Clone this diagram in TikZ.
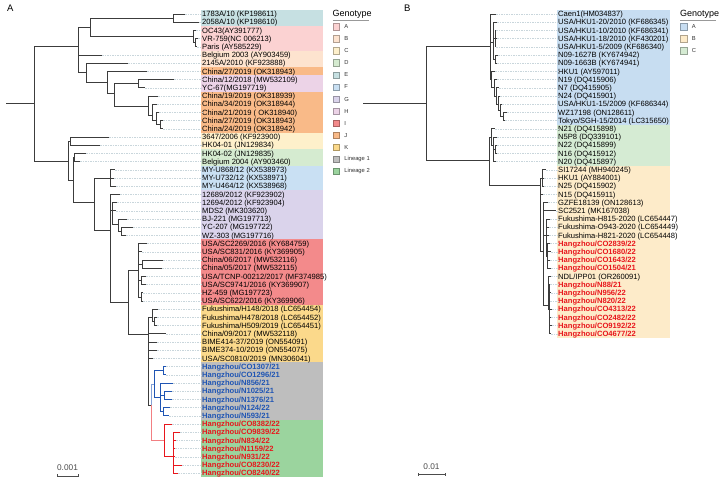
\documentclass[tikz,border=0pt]{standalone}
\usepackage{fontspec}
\setmainfont{Liberation Sans}
\usetikzlibrary{positioning}

\definecolor{treec}{HTML}{3C3C3C}
\definecolor{leadc}{HTML}{C9D6DC}
\definecolor{gA}{HTML}{FBD2D2}
\definecolor{gB}{HTML}{FDE3CF}
\definecolor{gC}{HTML}{FEF0CB}
\definecolor{gD}{HTML}{D5EBD0}
\definecolor{gE}{HTML}{C6E0E2}
\definecolor{gF}{HTML}{C9E0F3}
\definecolor{gG}{HTML}{DAD3EB}
\definecolor{gH}{HTML}{ECD3E7}
\definecolor{gI}{HTML}{F38A8B}
\definecolor{gJ}{HTML}{F9BA88}
\definecolor{gK}{HTML}{FBD98B}
\definecolor{gLone}{HTML}{BEBEBE}
\definecolor{gLtwo}{HTML}{9BD49E}
\definecolor{hA}{HTML}{C7DDF1}
\definecolor{hB}{HTML}{FDEBC9}
\definecolor{hC}{HTML}{D5EBD3}
\definecolor{linone}{HTML}{1F55B4}
\definecolor{lintwo}{HTML}{E8161C}

\newcommand{\labfont}{\fontsize{7.6}{8}\selectfont}

\begin{document}
\begin{tikzpicture}[x=1pt, y=-8.2pt,
  tree/.style={color=treec, line width=0.7pt, every edge/.style={draw, to path={|- (\tikztotarget)}}},
  lead/.style={draw=leadc, line width=0.45pt, dash pattern=on 1.5pt off 1pt},
  lab/.style={anchor=west, inner sep=0pt, text height=5.4pt, text depth=0pt, font=\labfont},
  hz1/.style={lab, text=linone, font=\labfont\bfseries},
  hz2/.style={lab, text=lintwo, font=\labfont\bfseries},
  lgbox/.style={line width=0.3pt, minimum size=6.5pt, inner sep=0pt},
  lgtxt/.style={font=\fontsize{5.8}{6}\selectfont, text=black!80, inner sep=0pt},
  lgtitle/.style={font=\fontsize{9}{10}\selectfont, anchor=west, inner sep=0pt},
  panel/.style={font=\fontsize{9.5}{10}\selectfont, anchor=west, inner sep=0pt},
  sbar/.style={line width=0.6pt, draw=black!70},
  sbtxt/.style={font=\fontsize{8.3}{9}\selectfont, text=black!70, inner sep=0pt}]

\useasboundingbox (0,-0.7073) rectangle (724,58.195);
\fill[white] (0,-0.7073) rectangle (724,58.195);

\node[panel] (pA) at (7,0.27) {A};
\node[panel] (pB) at (404,0.27) {B};

% label backgrounds, panel A
\fill[gE] (201,0.5) rectangle (323,2.5);
\fill[gA] (201,2.5) rectangle (323,5.5);
\fill[gB] (201,5.5) rectangle (323,7.5);
\fill[gJ] (201,7.5) rectangle (323,8.5);
\fill[gH] (201,8.5) rectangle (323,10.5);
\fill[gJ] (201,10.5) rectangle (323,15.5);
\fill[gC] (201,15.5) rectangle (323,17.5);
\fill[gD] (201,17.5) rectangle (323,19.5);
\fill[gF] (201,19.5) rectangle (323,22.5);
\fill[gG] (201,22.5) rectangle (323,28.5);
\fill[gI] (201,28.5) rectangle (323,36.5);
\fill[gK] (201,36.5) rectangle (323,43.5);
\fill[gLone] (201,43.5) rectangle (323,50.5);
\fill[gLtwo] (201,50.5) rectangle (323,57.5);

% label backgrounds, panel B
\fill[hA] (557,0.5) rectangle (670,14.5);
\fill[hC] (557,14.5) rectangle (670,19.5);
\fill[hB] (557,19.5) rectangle (670,40.5);

\node[lab] (a1) at (202,1) {1783A/10 (KP198611)};
\node[lab] (a2) at (202,2) {2058A/10 (KP198610)};
\node[lab] (a3) at (202,3) {OC43(AY391777)};
\node[lab] (a4) at (202,4) {VR-759(NC 006213)};
\node[lab] (a5) at (202,5) {Paris (AY585229)};
\node[lab] (a6) at (202,6) {Belgium 2003 (AY903459)};
\node[lab] (a7) at (202,7) {2145A/2010 (KF923888)};
\node[lab] (a8) at (202,8) {China/27/2019 (OK318943)};
\node[lab] (a9) at (202,9) {China/12/2018 (MW532109)};
\node[lab] (a10) at (202,10) {YC-67(MG197719)};
\node[lab] (a11) at (202,11) {China/19/2019 (OK318939)};
\node[lab] (a12) at (202,12) {China/34/2019 (OK318944)};
\node[lab] (a13) at (202,13) {China/21/2019 ( OK318940)};
\node[lab] (a14) at (202,14) {China/27/2019 (OK318943)};
\node[lab] (a15) at (202,15) {China/24/2019 (OK318942)};
\node[lab] (a16) at (202,16) {3647/2006 (KF923900)};
\node[lab] (a17) at (202,17) {HK04-01 (JN129834)};
\node[lab] (a18) at (202,18) {HK04-02 (JN129835)};
\node[lab] (a19) at (202,19) {Belgium 2004 (AY903460)};
\node[lab] (a20) at (202,20) {MY-U868/12 (KX538973)};
\node[lab] (a21) at (202,21) {MY-U732/12 (KX538971)};
\node[lab] (a22) at (202,22) {MY-U464/12 (KX538968)};
\node[lab] (a23) at (202,23) {12689/2012 (KF923902)};
\node[lab] (a24) at (202,24) {12694/2012 (KF923904)};
\node[lab] (a25) at (202,25) {MDS2 (MK303620)};
\node[lab] (a26) at (202,26) {BJ-221 (MG197713)};
\node[lab] (a27) at (202,27) {YC-207 (MG197722)};
\node[lab] (a28) at (202,28) {WZ-303 (MG197716)};
\node[lab] (a29) at (202,29) {USA/SC2269/2016 (KY684759)};
\node[lab] (a30) at (202,30) {USA/SC831/2016 (KY369905)};
\node[lab] (a31) at (202,31) {China/06/2017 (MW532116)};
\node[lab] (a32) at (202,32) {China/05/2017 (MW532115)};
\node[lab] (a33) at (202,33) {USA/TCNP-00212/2017 (MF374985)};
\node[lab] (a34) at (202,34) {USA/SC9741/2016 (KY369907)};
\node[lab] (a35) at (202,35) {HZ-459 (MG197723)};
\node[lab] (a36) at (202,36) {USA/SC622/2016 (KY369906)};
\node[lab] (a37) at (202,37) {Fukushima/H148/2018 (LC654454)};
\node[lab] (a38) at (202,38) {Fukushima/H478/2018 (LC654452)};
\node[lab] (a39) at (202,39) {Fukushima/H509/2019 (LC654451)};
\node[lab] (a40) at (202,40) {China/09/2017 (MW532118)};
\node[lab] (a41) at (202,41) {BIME414-37/2019 (ON554091)};
\node[lab] (a42) at (202,42) {BIME374-10/2019 (ON554075)};
\node[lab] (a43) at (202,43) {USA/SC0810/2019 (MN306041)};
\node[hz1] (a44) at (202,44) {Hangzhou/CO1307/21};
\node[hz1] (a45) at (202,45) {Hangzhou/CO1296/21};
\node[hz1] (a46) at (202,46) {Hangzhou/N856/21};
\node[hz1] (a47) at (202,47) {Hangzhou/N1025/21};
\node[hz1] (a48) at (202,48) {Hangzhou/N1376/21};
\node[hz1] (a49) at (202,49) {Hangzhou/N124/22};
\node[hz1] (a50) at (202,50) {Hangzhou/N593/21};
\node[hz2] (a51) at (202,51) {Hangzhou/CO8382/22};
\node[hz2] (a52) at (202,52) {Hangzhou/CO9839/22};
\node[hz2] (a53) at (202,53) {Hangzhou/N834/22};
\node[hz2] (a54) at (202,54) {Hangzhou/N1159/22};
\node[hz2] (a55) at (202,55) {Hangzhou/N931/22};
\node[hz2] (a56) at (202,56) {Hangzhou/CO8230/22};
\node[hz2] (a57) at (202,57) {Hangzhou/CO8240/22};

\node[lab] (b1) at (558,1) {Caen1(HM034837)};
\node[lab] (b2) at (558,2) {USA/HKU1-20/2010 (KF686345)};
\node[lab] (b3) at (558,3) {USA/HKU1-10/2010 (KF686341)};
\node[lab] (b4) at (558,4) {USA/HKU1-18/2010 (KF430201)};
\node[lab] (b5) at (558,5) {USA/HKU1-5/2009 (KF686340)};
\node[lab] (b6) at (558,6) {N09-1627B (KY674942)};
\node[lab] (b7) at (558,7) {N09-1663B (KY674941)};
\node[lab] (b8) at (558,8) {HKU1 (AY597011)};
\node[lab] (b9) at (558,9) {N19 (DQ415906)};
\node[lab] (b10) at (558,10) {N7 (DQ415905)};
\node[lab] (b11) at (558,11) {N24 (DQ415901)};
\node[lab] (b12) at (558,12) {USA/HKU1-15/2009 (KF686344)};
\node[lab] (b13) at (558,13) {WZ17198 (ON128611)};
\node[lab] (b14) at (558,14) {Tokyo/SGH-15/2014 (LC315650)};
\node[lab] (b15) at (558,15) {N21 (DQ415898)};
\node[lab] (b16) at (558,16) {N5P8 (DQ339101)};
\node[lab] (b17) at (558,17) {N22 (DQ415899)};
\node[lab] (b18) at (558,18) {N16 (DQ415912)};
\node[lab] (b19) at (558,19) {N20 (DQ415897)};
\node[lab] (b20) at (558,20) {SI17244 (MH940245)};
\node[lab] (b21) at (558,21) {HKU1 (AY884001)};
\node[lab] (b22) at (558,22) {N25 (DQ415902)};
\node[lab] (b23) at (558,23) {N15 (DQ415911)};
\node[lab] (b24) at (558,24) {GZFE18139 (ON128613)};
\node[lab] (b25) at (558,25) {SC2521 (MK167038)};
\node[lab] (b26) at (558,26) {Fukushima-H815-2020 (LC654447)};
\node[lab] (b27) at (558,27) {Fukushima-O943-2020 (LC654449)};
\node[lab] (b28) at (558,28) {Fukushima-H821-2020 (LC654448)};
\node[hz2] (b29) at (558,29) {Hangzhou/CO2839/22};
\node[hz2] (b30) at (558,30) {Hangzhou/CO1680/22};
\node[hz2] (b31) at (558,31) {Hangzhou/CO1643/22};
\node[hz2] (b32) at (558,32) {Hangzhou/CO1504/21};
\node[lab] (b33) at (558,33) {NDL/IPP01 (OR260091)};
\node[hz2] (b34) at (558,34) {Hangzhou/N88/21};
\node[hz2] (b35) at (558,35) {Hangzhou/N956/22};
\node[hz2] (b36) at (558,36) {Hangzhou/N820/22};
\node[hz2] (b37) at (558,37) {Hangzhou/CO4313/22};
\node[hz2] (b38) at (558,38) {Hangzhou/CO2482/22};
\node[hz2] (b39) at (558,39) {Hangzhou/CO9192/22};
\node[hz2] (b40) at (558,40) {Hangzhou/CO4677/22};

% tips, panel A
\coordinate (ta1) at (185,1);  \coordinate (ta2) at (199,2);  \coordinate (ta3) at (196,3);
\coordinate (ta4) at (198,4);  \coordinate (ta5) at (197,5);  \coordinate (ta6) at (102,6);
\coordinate (ta7) at (128,7);  \coordinate (ta8) at (147,8);  \coordinate (ta9) at (174,9);
\coordinate (ta10) at (145,10); \coordinate (ta11) at (158,11); \coordinate (ta12) at (157,12);
\coordinate (ta13) at (159,13); \coordinate (ta14) at (163,14); \coordinate (ta15) at (163,15);
\coordinate (ta16) at (109,16); \coordinate (ta17) at (100,17); \coordinate (ta18) at (86,18);
\coordinate (ta19) at (80,19);  \coordinate (ta20) at (115,20); \coordinate (ta21) at (114,21);
\coordinate (ta22) at (116,22); \coordinate (ta23) at (120,23); \coordinate (ta24) at (117,24);
\coordinate (ta25) at (116,25); \coordinate (ta26) at (127,26); \coordinate (ta27) at (133,27);
\coordinate (ta28) at (126,28); \coordinate (ta29) at (147,29); \coordinate (ta30) at (142,30);
\coordinate (ta31) at (163,31); \coordinate (ta32) at (162,32); \coordinate (ta33) at (146,33);
\coordinate (ta34) at (146,34); \coordinate (ta35) at (143,35); \coordinate (ta36) at (143,36);
\coordinate (ta37) at (158,37); \coordinate (ta38) at (157,38); \coordinate (ta39) at (157,39);
\coordinate (ta40) at (166,40); \coordinate (ta41) at (157,41); \coordinate (ta42) at (157,42);
\coordinate (ta43) at (153,43); \coordinate (ta44) at (166,44); \coordinate (ta45) at (166,45);
\coordinate (ta46) at (173,46); \coordinate (ta47) at (172,47); \coordinate (ta48) at (172,48);
\coordinate (ta49) at (170,49); \coordinate (ta50) at (169,50); \coordinate (ta51) at (172,51);
\coordinate (ta52) at (180,52); \coordinate (ta53) at (176,53); \coordinate (ta54) at (175,54);
\coordinate (ta55) at (175,55); \coordinate (ta56) at (182,56); \coordinate (ta57) at (178,57);

% tips, panel B
\coordinate (tb1) at (496,1);  \coordinate (tb2) at (497,2);  \coordinate (tb3) at (496,3);
\coordinate (tb4) at (497,4);  \coordinate (tb5) at (496,5);  \coordinate (tb6) at (498,6);
\coordinate (tb7) at (497,7);  \coordinate (tb8) at (495,8);  \coordinate (tb9) at (497,9);
\coordinate (tb10) at (499,10); \coordinate (tb11) at (500,11); \coordinate (tb12) at (502,12);
\coordinate (tb13) at (507,13); \coordinate (tb14) at (505,14); \coordinate (tb15) at (495,15);
\coordinate (tb16) at (497,16); \coordinate (tb17) at (497,17); \coordinate (tb18) at (497,18);
\coordinate (tb19) at (496,19); \coordinate (tb20) at (546,20); \coordinate (tb21) at (544,21);
\coordinate (tb22) at (544,22); \coordinate (tb23) at (543,23); \coordinate (tb24) at (548,24);
\coordinate (tb25) at (556,25); \coordinate (tb26) at (550,26); \coordinate (tb27) at (549,27);
\coordinate (tb28) at (549,28); \coordinate (tb29) at (550,29); \coordinate (tb30) at (551,30);
\coordinate (tb31) at (550,31); \coordinate (tb32) at (551,32); \coordinate (tb33) at (551,33);
\coordinate (tb34) at (550,34); \coordinate (tb35) at (551,35); \coordinate (tb36) at (550,36);
\coordinate (tb37) at (552,37); \coordinate (tb38) at (551,38); \coordinate (tb39) at (552,39);
\coordinate (tb40) at (551,40);

\foreach \i in {1,...,57} \draw[lead] (ta\i) -- (a\i.west);
\foreach \i in {1,...,40} \draw[lead] (tb\i) -- (b\i.west);

% inner nodes, panel A
\coordinate (ra) at (6,11.85);    \coordinate (n1) at (34,11.85);
\coordinate (nU) at (78,4.9);     \coordinate (nEA) at (90,2.59);
\coordinate (nE) at (173,1.5);    \coordinate (nAa) at (193,3.7);
\coordinate (nAb) at (195,4.5);   \coordinate (n86) at (86,8.07);
\coordinate (n107) at (107,9.29); \coordinate (n114) at (114,10.7);
\coordinate (nH) at (138,9.5);    \coordinate (nJ) at (148,12.3);
\coordinate (nJ2) at (152,13.4);  \coordinate (nJ3) at (156,14);
\coordinate (nJ4) at (160,14.5);  \coordinate (nL) at (68,18.93);
\coordinate (nC) at (70.7,16.5);  \coordinate (nR) at (73,21.3);
\coordinate (nD) at (74,18.5);    \coordinate (nFG) at (94,23.93);
\coordinate (nF) at (110,21);     \coordinate (nGIK) at (110,27.34);
\coordinate (nG2) at (112,25);    \coordinate (nG3) at (118,26.6);
\coordinate (nG4) at (121,27.5);  \coordinate (nIK) at (128,36.12);
\coordinate (nI) at (138,32.22);  \coordinate (nI2) at (142,31.5);
\coordinate (nI3) at (141,33.5);  \coordinate (nI4) at (141,35.5);
\coordinate (nK) at (148,40.02);  \coordinate (nFk) at (152,38);
\coordinate (nFk2) at (154,38.5); \coordinate (nLin) at (151,48.7);
\coordinate (nL1) at (154,46.2);  \coordinate (nLa) at (163,44.5);
\coordinate (nLb) at (160,47.7);  \coordinate (nLc) at (164,47.5);
\coordinate (nLd) at (163,49.5);  \coordinate (nLe) at (164,53);
\coordinate (nLf) at (173,55);

\path[tree]
(ra) edge (n1)
(n1) edge (nU) edge (nL)
(nU) edge (nEA) edge (ta6) edge (n86)
(nEA) edge (nE) edge (nAa)
(nE) edge (ta1) edge (ta2)
(nAa) edge (ta3) edge (nAb)
(nAb) edge (ta4) edge (ta5)
(n86) edge (ta7) edge (n107)
(n107) edge (ta8) edge (n114)
(n114) edge (nH) edge (nJ)
(nH) edge (ta9) edge (ta10)
(nJ) edge (ta11) edge (nJ2)
(nJ2) edge (ta12) edge (nJ3)
(nJ3) edge (ta13) edge (nJ4)
(nJ4) edge (ta14) edge (ta15)
(nL) edge (nC) edge (nR)
(nC) edge (ta16) edge (ta17)
(nR) edge (nD) edge (nFG)
(nD) edge (ta18) edge (ta19)
(nFG) edge (nF) edge (nGIK)
(nF) edge (ta20) edge (ta21) edge (ta22)
(nGIK) edge (ta23) edge (nG2) edge (nIK)
(nG2) edge (ta24) edge (ta25) edge (nG3)
(nG3) edge (ta26) edge (nG4)
(nG4) edge (ta27) edge (ta28)
(nIK) edge (nI) edge (nK)
(nI) edge (ta29) edge (ta30) edge (nI2) edge (nI3) edge (nI4)
(nI2) edge (ta31) edge (ta32)
(nI3) edge (ta33) edge (ta34)
(nI4) edge (ta35) edge (ta36)
(nK) edge (nFk) edge (ta40) edge (ta41) edge (ta42) edge (ta43) edge (nLin)
(nFk) edge (ta37) edge (nFk2)
(nFk2) edge (ta38) edge (ta39)
;
\path[tree, color=linone!55] (nLin) edge (nL1);
\path[tree, color=lintwo!55] (nLin) edge (nLe);
\path[tree, color=linone]
(nL1) edge (nLa) edge (nLb)
(nLa) edge (ta44) edge (ta45)
(nLb) edge (ta46) edge (nLc) edge (nLd)
(nLc) edge (ta47) edge (ta48)
(nLd) edge (ta49) edge (ta50)
;
\path[tree, color=lintwo]
(nLe) edge (ta51) edge (nLf)
(nLf) edge (ta52) edge (ta53) edge (ta54) edge (ta55) edge (ta56) edge (ta57)
;

% inner nodes, panel B
\coordinate (rb) at (363,11.85);  \coordinate (mB1) at (426,11.85);
\coordinate (mBA) at (490,5);     \coordinate (mA1) at (493,4.5);
\coordinate (mA1b) at (495,4);    \coordinate (mA1c) at (495,6.5);
\coordinate (mA2) at (491,9);     \coordinate (mA2b) at (494,10);
\coordinate (mA2c) at (496,11);   \coordinate (mA2d) at (498,12);
\coordinate (mA2e) at (500,12.8); \coordinate (mA2f) at (503,13.5);
\coordinate (mBL) at (489,18.8);  \coordinate (mC) at (491,16);
\coordinate (mC2) at (493,17);    \coordinate (mC3) at (495,17.5);
\coordinate (mBB) at (540,21.85); \coordinate (mBx) at (542,21);
\coordinate (mBy) at (543,30);    \coordinate (mBz) at (546,28);
\coordinate (mBh) at (547,30.5);  \coordinate (mBw) at (548,36.5);
\coordinate (mBv) at (549,37);

\path[tree]
(rb) edge (mB1)
(mB1) edge (mBA) edge (mBL)
(mBA) edge (tb1) edge (mA1) edge (mA2)
(mA1) edge (tb2) edge (mA1b) edge (mA1c)
(mA1b) edge (tb3) edge (tb4) edge (tb5)
(mA1c) edge (tb6) edge (tb7)
(mA2) edge (tb8) edge (mA2b)
(mA2b) edge (tb9) edge (mA2c)
(mA2c) edge (tb10) edge (mA2d)
(mA2d) edge (tb11) edge (mA2e)
(mA2e) edge (tb12) edge (mA2f)
(mA2f) edge (tb13) edge (tb14)
(mBL) edge (mC) edge (mBB)
(mC) edge (tb15) edge (mC2)
(mC2) edge (tb16) edge (mC3) edge (tb19)
(mC3) edge (tb17) edge (tb18)
(mBB) edge (mBx) edge (tb23) edge (mBy)
(mBx) edge (tb20) edge (tb21) edge (tb22)
(mBy) edge (tb24) edge (tb25) edge (mBz) edge (mBw)
(mBz) edge (tb26) edge (tb27) edge (tb28) edge (mBh)
(mBh) edge (tb29) edge (tb30) edge (tb31) edge (tb32)
(mBw) edge (tb33) edge (mBv)
(mBv) edge (tb34) edge (tb35) edge (tb36) edge (tb37) edge (tb38) edge (tb39) edge (tb40)
;

% legend, panel A
\node[lgtitle] (gtA) at (332.5,1) {Genotype};
\draw[black!40, line width=0.4pt] (gtA.south west) ++(0,-1.5pt) coordinate (ulA) -- ++(36pt,0);
\node[lgbox, fill=gA, draw=gA!70!black] (kA) at (336.2,2.55) {};
\node[lgbox, fill=gB, draw=gB!70!black, below=5.25pt of kA] (kB) {};
\node[lgbox, fill=gC, draw=gC!70!black, below=5.25pt of kB] (kC) {};
\node[lgbox, fill=gD, draw=gD!70!black, below=5.25pt of kC] (kD) {};
\node[lgbox, fill=gE, draw=gE!70!black, below=5.25pt of kD] (kE) {};
\node[lgbox, fill=gF, draw=gF!70!black, below=5.25pt of kE] (kF) {};
\node[lgbox, fill=gG, draw=gG!70!black, below=5.25pt of kF] (kG) {};
\node[lgbox, fill=gH, draw=gH!70!black, below=5.25pt of kG] (kH) {};
\node[lgbox, fill=gI, draw=gI!70!black, below=5.25pt of kH] (kI) {};
\node[lgbox, fill=gJ, draw=gJ!70!black, below=5.25pt of kI] (kJ) {};
\node[lgbox, fill=gK, draw=gK!70!black, below=5.25pt of kJ] (kK) {};
\node[lgbox, fill=gLone, draw=gLone!70!black, below=5.25pt of kK] (kL1) {};
\node[lgbox, fill=gLtwo, draw=gLtwo!70!black, below=5.25pt of kL1] (kL2) {};
\node[lgtxt, right=4.5pt of kA] (xA) {A};
\node[lgtxt, right=4.5pt of kB] (xB) {B};
\node[lgtxt, right=4.5pt of kC] (xC) {C};
\node[lgtxt, right=4.5pt of kD] (xD) {D};
\node[lgtxt, right=4.5pt of kE] (xE) {E};
\node[lgtxt, right=4.5pt of kF] (xF) {F};
\node[lgtxt, right=4.5pt of kG] (xG) {G};
\node[lgtxt, right=4.5pt of kH] (xH) {H};
\node[lgtxt, right=4.5pt of kI] (xI) {I};
\node[lgtxt, right=4.5pt of kJ] (xJ) {J};
\node[lgtxt, right=4.5pt of kK] (xK) {K};
\node[lgtxt, right=4.5pt of kL1] (xL1) {Lineage 1};
\node[lgtxt, right=4.5pt of kL2] (xL2) {Lineage 2};

% legend, panel B
\node[lgtitle] (gtB) at (680,1) {Genotype};
\draw[black!40, line width=0.4pt] (gtB.south west) ++(0,-1.5pt) coordinate (ulB) -- ++(36pt,0);
\node[lgbox, fill=hA, draw=hA!70!black] (kbA) at (683.7,2.55) {};
\node[lgbox, fill=hB, draw=hB!70!black, below=5.25pt of kbA] (kbB) {};
\node[lgbox, fill=hC, draw=hC!70!black, below=5.25pt of kbB] (kbC) {};
\node[lgtxt, right=4.5pt of kbA] (ybA) {A};
\node[lgtxt, right=4.5pt of kbB] (ybB) {B};
\node[lgtxt, right=4.5pt of kbC] (ybC) {C};

% scale bars
\node[sbtxt] (sA) at (67.5,56.35) {0.001};
\coordinate (sa1) at (57,57.34);
\coordinate (sa2) at (78,57.34);
\draw[sbar] (sa1) -- (sa2);
\draw[sbar] ([yshift=1.5pt]sa1) -- ([yshift=-1.5pt]sa1);
\draw[sbar] ([yshift=1.5pt]sa2) -- ([yshift=-1.5pt]sa2);

\node[sbtxt] (sB) at (431.5,56.24) {0.01};
\coordinate (sb1) at (418,57.16);
\coordinate (sb2) at (445,57.16);
\draw[sbar] (sb1) -- (sb2);
\draw[sbar] ([yshift=1.5pt]sb1) -- ([yshift=-1.5pt]sb1);
\draw[sbar] ([yshift=1.5pt]sb2) -- ([yshift=-1.5pt]sb2);

\end{tikzpicture}
\end{document}
